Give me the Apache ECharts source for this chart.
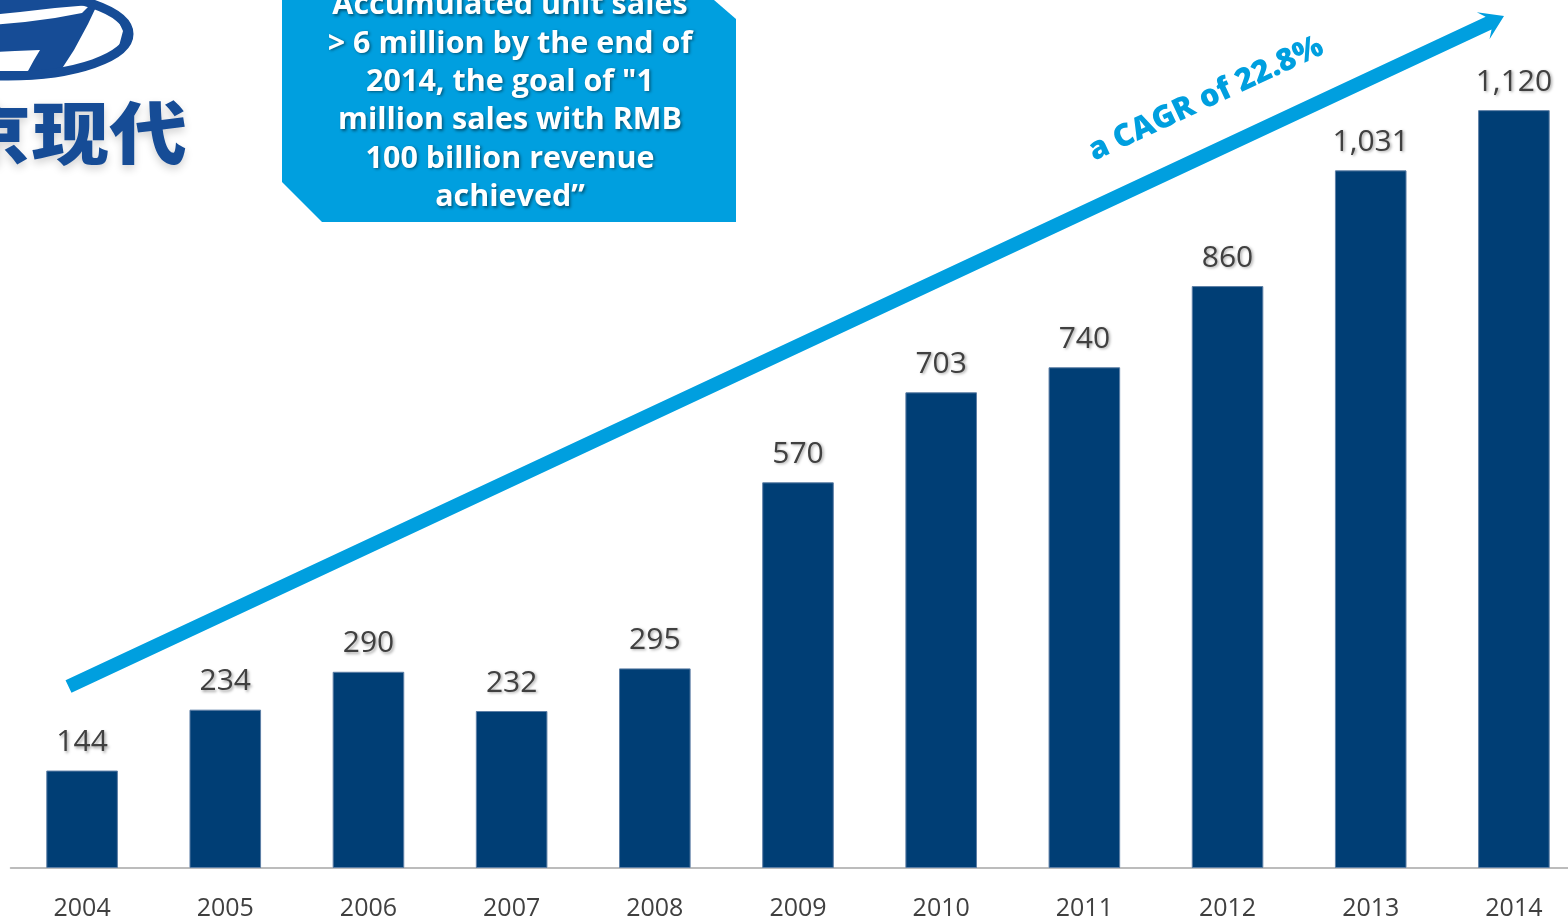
<!DOCTYPE html>
<html>
<head>
<meta charset="utf-8">
<title>Beijing Hyundai annual sales 2004-2014</title>
<script src="https://cdn.jsdelivr.net/npm/echarts@6/dist/echarts.min.js"></script>
<style>
  html, body { margin: 0; padding: 0; background: #ffffff; }
  #chart { width: 1568px; height: 920px; }
</style>
</head>
<body>
<div id="chart"></div>
<script>
// Annual unit sales, thousand vehicles
const years = ['2004', '2005', '2006', '2007', '2008', '2009', '2010', '2011', '2012', '2013', '2014'];
const sales = [144, 234, 290, 232, 295, 570, 703, 740, 860, 1031, 1120];

const calloutLines = [
  'Accumulated unit sales',
  '> 6 million by the end of',
  '2014, the goal of "1',
  'million sales with RMB',
  '100 billion revenue',
  'achieved\u201d'
];
const trendText = 'a CAGR of 22.8%';
const brandText = '北京现代';

const NAVY = '#003e75';
const CYAN = '#009fdf';
const LOGO = '#164c96';

const chart = echarts.init(document.getElementById('chart'));

// Trend arrow: from lower left of the first bar up to the top right corner
const arrowStart = [68.5, 686.5];
const arrowEnd = [1504, 16];
const dx = arrowEnd[0] - arrowStart[0];
const dy = arrowStart[1] - arrowEnd[1];
const arrowLen = Math.sqrt(dx * dx + dy * dy);
const arrowAngle = Math.atan2(dy, dx);
const shaftHalf = 7;
const headLen = 20;
const headHalf = 15;

const numFmt = v => v.toLocaleString('en-US');

chart.setOption({
  animation: false,
  // the plot runs a little past the right edge, so the last bar sits flush with it
  grid: { left: 10.5, width: 1575, top: 56, bottom: 52, outerBoundsMode: 'none', containLabel: false },
  xAxis: {
    type: 'category',
    data: years,
    axisLine: { lineStyle: { color: '#a6a6a6', width: 1.5 } },
    axisTick: { show: false },
    axisLabel: {
      color: '#404040',
      fontSize: 25,
      fontFamily: 'Open Sans',
      margin: 28
    }
  },
  yAxis: {
    type: 'value',
    min: 0,
    max: 1200,
    show: false,
    splitLine: { show: false }
  },
  series: [{
    type: 'bar',
    data: sales,
    barWidth: '50%',
    itemStyle: { color: NAVY, borderColor: '#5d7fa6', borderWidth: 1 },
    label: {
      show: true,
      position: 'top',
      distance: 13,
      formatter: p => numFmt(p.value),
      color: '#404040',
      fontSize: 30,
      fontFamily: 'Open Sans',
      textShadowColor: 'rgba(0,0,0,0.35)',
      textShadowBlur: 3,
      textShadowOffsetX: 1.5,
      textShadowOffsetY: 1.5
    }
  }],
  graphic: [
    // Hyundai emblem (partly off the left/top edge)
    {
      type: 'group',
      children: [
        { type: 'ellipse', shape: { cx: 8, cy: 34, rx: 125, ry: 46 }, style: { fill: LOGO } },
        { type: 'polygon', shape: { points: [[-20, 16], [20, 12], [55, 8], [90, 5], [82, 13], [55, 18], [25, 22], [-20, 26]] }, style: { fill: '#fff' } },
        { type: 'polygon', shape: { points: [[97, 5], [108, 9], [117, 18], [123, 31], [119, 46], [103, 58], [80, 66], [61, 70], [74, 50], [88, 24]] }, style: { fill: '#fff' } },
        { type: 'polygon', shape: { points: [[-20, 53], [15, 51], [40, 50], [34, 60], [28, 71], [-20, 71]] }, style: { fill: '#fff' } },
        { type: 'ellipse', shape: { cx: 8, cy: 34, rx: 121, ry: 42 }, style: { fill: null, stroke: LOGO, lineWidth: 9 } }
      ]
    },
    {
      type: 'text',
      x: 187,
      y: 133,
      scaleX: 1.08,
      scaleY: 0.95,
      style: {
        text: brandText,
        align: 'right',
        verticalAlign: 'middle',
        fill: LOGO,
        font: '900 72px "Noto Sans CJK SC"',
        textShadowColor: 'rgba(0,0,0,0.18)',
        textShadowBlur: 8,
        textShadowOffsetY: 4
      }
    },
    // Callout box with clipped corners
    {
      type: 'polygon',
      shape: { points: [[282, 0], [714, 0], [736, 19], [736, 222], [322, 222], [282, 182]] },
      style: { fill: CYAN }
    },
    {
      type: 'text',
      x: 510,
      y: -13.7,
      style: {
        text: calloutLines.join('\n'),
        align: 'center',
        verticalAlign: 'top',
        lineHeight: 38.4,
        fill: '#ffffff',
        font: 'bold 30.5px "Open Sans"',
        textShadowColor: 'rgba(0,0,0,0.45)',
        textShadowBlur: 3,
        textShadowOffsetX: 1.5,
        textShadowOffsetY: 1.5
      }
    },
    // Growth arrow
    {
      type: 'polygon',
      x: arrowStart[0],
      y: arrowStart[1],
      rotation: arrowAngle,
      shape: {
        points: [
          [0, -shaftHalf], [arrowLen - headLen + 3, -shaftHalf], [arrowLen - headLen - 3, -headHalf],
          [arrowLen, 0],
          [arrowLen - headLen - 3, headHalf], [arrowLen - headLen + 3, shaftHalf], [0, shaftHalf]
        ]
      },
      style: { fill: CYAN }
    },
    {
      type: 'text',
      x: 1206,
      y: 99,
      rotation: arrowAngle,
      style: {
        text: trendText,
        align: 'center',
        verticalAlign: 'middle',
        fill: CYAN,
        font: '800 31px "Open Sans"'
      }
    }
  ]
});
</script>
</body>
</html>
